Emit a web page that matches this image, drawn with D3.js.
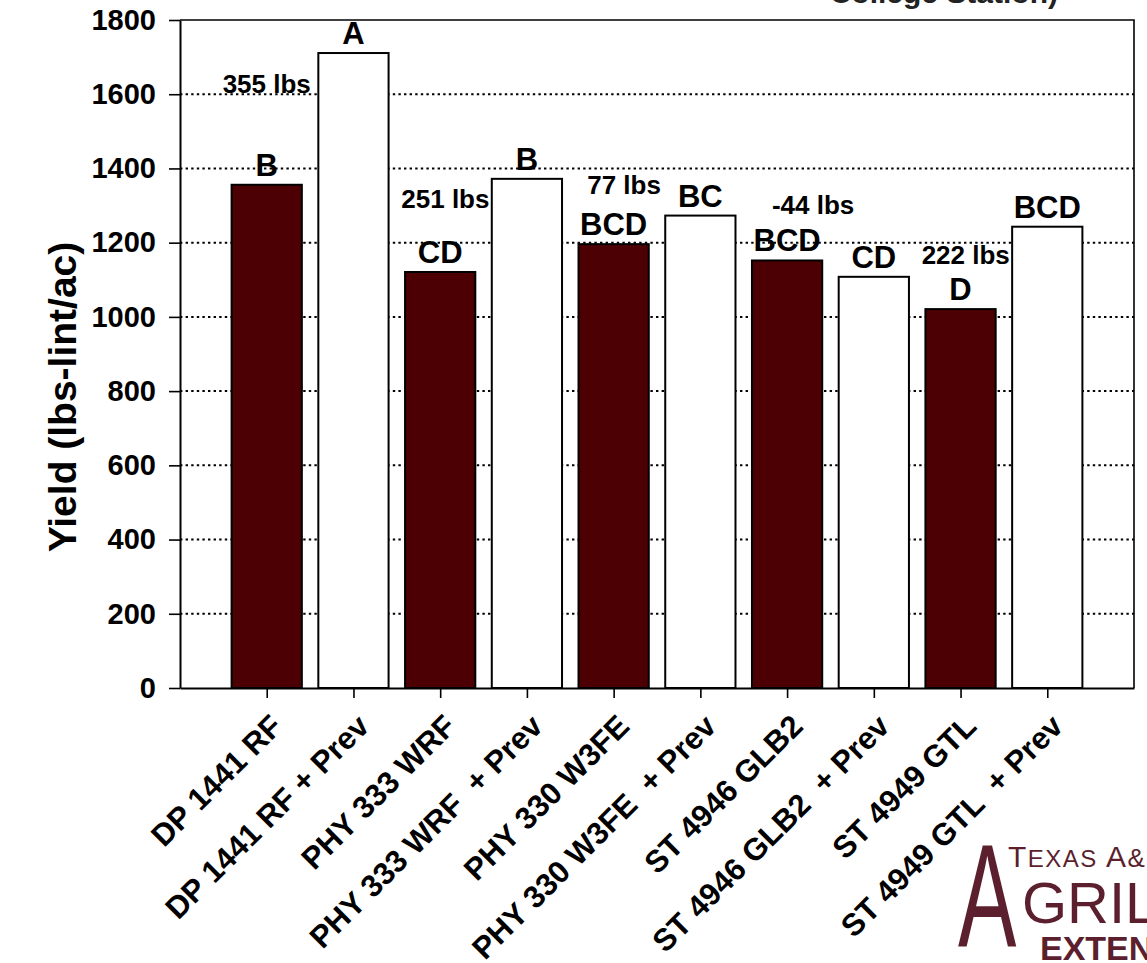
<!DOCTYPE html>
<html>
<head>
<meta charset="utf-8">
<script src="https://cdn.jsdelivr.net/npm/d3@7"></script>
<style>
  html, body { margin: 0; padding: 0; background: #ffffff; }
  svg { display: block; }
  text { font-family: "Liberation Sans", Arial, Helvetica, sans-serif; }
</style>
</head>
<body>
<svg id="chart" width="1147" height="963"></svg>
<script>
// ---- data -------------------------------------------------------------
const categories = [
  "DP 1441 RF", "DP 1441 RF + Prev",
  "PHY 333 WRF", "PHY 333 WRF  + Prev",
  "PHY 330 W3FE", "PHY 330 W3FE  + Prev",
  "ST 4946 GLB2", "ST 4946 GLB2  + Prev",
  "ST 4949 GTL", "ST 4949 GTL  + Prev"
];
const yields = [1356, 1711, 1121, 1372, 1196, 1273, 1152, 1108, 1021, 1243];
const withPrev = [false, true, false, true, false, true, false, true, false, true];
const meanLetters = ["B", "A", "CD", "B", "BCD", "BC", "BCD", "CD", "D", "BCD"];
const yTicks = [0, 200, 400, 600, 800, 1000, 1200, 1400, 1600, 1800];

// Yield gain of each "+ Prev" treatment over its base variety
const gains = d3.range(0, yields.length, 2).map(i => ({ base: i, diff: yields[i + 1] - yields[i] }));

// ---- layout -------------------------------------------------------------
const plot = { left: 180, right: 1134, top: 20, bottom: 688 };
// where each gain label sits: slot offset from the base bar, and height in lbs
const gainLabelAt = [[0.0, 1604], [0.06, 1294], [0.12, 1332], [0.30, 1278], [0.06, 1143]];

const svg = d3.select("#chart");
const x = d3.scaleLinear().domain([0, categories.length + 1]).range([plot.left, plot.right]);
const y = d3.scaleLinear().domain([0, 1800]).range([plot.bottom, plot.top]);
const slot = x(1) - x(0);
const barW = slot * 0.81;
const maroon = "#4c0003";

// dotted gridlines
svg.append("g").selectAll("line")
  .data(yTicks.filter(t => t > 0 && t < 1800))
  .join("line")
  .attr("x1", plot.left).attr("x2", plot.right)
  .attr("y1", d => y(d)).attr("y2", d => y(d))
  .attr("stroke", "#000").attr("stroke-width", 2)
  .attr("stroke-dasharray", "2.4,3.2");

// top and right frame
svg.append("path")
  .attr("d", `M${plot.left},${plot.top}H${plot.right}V${plot.bottom}`)
  .attr("fill", "none").attr("stroke", "#000").attr("stroke-width", 1.6);

// bars
svg.append("g").selectAll("rect")
  .data(yields)
  .join("rect")
  .attr("x", (d, i) => x(i + 1) - barW / 2)
  .attr("width", barW)
  .attr("y", d => y(d))
  .attr("height", d => y(0) - y(d))
  .attr("fill", (d, i) => withPrev[i] ? "#ffffff" : maroon)
  .attr("stroke", "#000").attr("stroke-width", 2);

// mean separation letters
svg.append("g").selectAll("text")
  .data(yields)
  .join("text")
  .attr("x", (d, i) => x(i + 1))
  .attr("y", d => y(d) - 9)
  .attr("text-anchor", "middle")
  .attr("font-size", 31).attr("font-weight", "bold")
  .text((d, i) => meanLetters[i]);

// gain labels
svg.append("g").selectAll("text")
  .data(gains)
  .join("text")
  .attr("x", (d, k) => x(d.base + 1 + gainLabelAt[k][0]))
  .attr("y", (d, k) => y(gainLabelAt[k][1]))
  .attr("text-anchor", "middle")
  .attr("font-size", 26).attr("font-weight", "bold")
  .text(d => `${d.diff} lbs`);

// y axis
const yAxis = svg.append("g")
  .attr("transform", `translate(${plot.left},0)`)
  .call(d3.axisLeft(y).tickValues(yTicks).tickFormat(d3.format("d"))
    .tickSize(11).tickSizeOuter(0).tickPadding(13));
yAxis.select(".domain").attr("stroke-width", 2);
yAxis.selectAll(".tick line").attr("stroke-width", 1.6);
yAxis.selectAll(".tick text")
  .attr("font-size", 29).attr("font-weight", "bold")
  .attr("font-family", "Liberation Sans, Arial, sans-serif").attr("fill", "#000");

// x axis
const xAxis = svg.append("g")
  .attr("transform", `translate(0,${plot.bottom})`)
  .call(d3.axisBottom(x).tickValues(d3.range(1, categories.length + 1))
    .tickSize(10).tickSizeOuter(0).tickFormat(i => categories[i - 1]));
xAxis.select(".domain").attr("stroke-width", 2.2);
xAxis.selectAll(".tick line").attr("stroke-width", 1.6);
xAxis.selectAll(".tick text")
  .attr("font-size", 31).attr("font-weight", "bold")
  .attr("font-family", "Liberation Sans, Arial, sans-serif").attr("fill", "#000")
  .attr("text-anchor", "end")
  .attr("x", 0).attr("y", 0).attr("dy", 0)
  .attr("transform", "translate(17,40) rotate(-45)")
  .style("white-space", "pre");

// y axis title
svg.append("text")
  .attr("transform", `translate(76,397) rotate(-90)`)
  .attr("text-anchor", "middle")
  .attr("font-size", 39).attr("font-weight", "bold")
  .text("Yield (lbs-lint/ac)");

// chart title (runs off the top edge)
svg.append("text")
  .attr("x", 1058).attr("y", 3)
  .attr("text-anchor", "end")
  .attr("font-size", 30).attr("font-weight", "bold").attr("fill", "#222")
  .text("College Station)");

// extension logo
const logo = svg.append("g").attr("fill", "#5c1f2e")
  .style("font-family", "\"Liberation Serif\", \"DejaVu Serif\", serif");
logo.append("text")
  .attr("transform", "translate(958,947) scale(0.6,1)")
  .attr("font-size", 146).text("A");
const t1 = logo.append("text").attr("x", 1008).attr("y", 867).attr("font-size", 30).attr("letter-spacing", 1.5);
t1.append("tspan").text("T");
t1.append("tspan").attr("font-size", 24).text("EXAS");
t1.append("tspan").text(" A");
t1.append("tspan").attr("font-size", 26).text("&M");
logo.append("text").attr("x", 1022).attr("y", 923).attr("font-size", 58).text("GRILIFE");
logo.append("text").attr("x", 1040).attr("y", 960)
  .style("font-family", "\"Liberation Sans\", Arial, sans-serif")
  .attr("font-size", 34).attr("font-weight", "bold").text("EXTENSION");
</script>
</body>
</html>
